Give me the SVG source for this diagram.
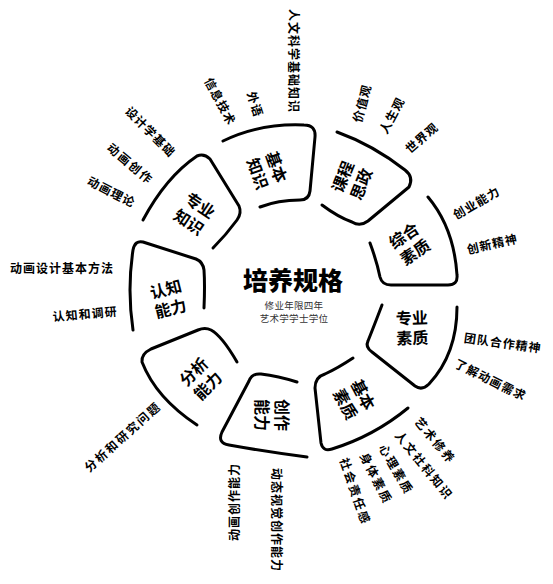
<svg xmlns="http://www.w3.org/2000/svg" width="553" height="584" viewBox="0 0 553 584">
<style>
.seg{fill:none;stroke:#000;stroke-width:3;stroke-linecap:round;stroke-linejoin:round}
text{font-family:"Noto Sans CJK SC","Noto Sans",sans-serif;fill:#000}
.nl{font-size:16px;font-weight:700;text-anchor:middle;dominant-baseline:central}
.lb{font-size:12px;font-weight:700;text-anchor:middle;dominant-baseline:central;letter-spacing:1px}
.lb2{letter-spacing:2px}
.title{font-size:25px;font-weight:900;text-anchor:middle;dominant-baseline:central}
.sub{font-size:9.5px;fill:#333;text-anchor:middle;dominant-baseline:central;letter-spacing:0.3px}
</style>
<rect width="553" height="584" fill="#fff"/>
<g id="center">
<text class="title" x="293" y="279">培养规格</text>
<text class="sub" x="294" y="305">修业年限四年</text>
<text class="sub" x="294" y="318">艺术学学士学位</text>
</g>
<g id="connectors">
<path class="seg" d="M223,141 Q260,123 304,125 Q316,125 315,137 L310,191 Q309,200 300,200 Q278,200 260,207"/>
<path class="seg" d="M337,132 Q373,145 405,170 Q414,177 409,187 L368,221 Q360,227 352,222 Q338,217 322,205"/>
<path class="seg" d="M428,197 Q454,228 457,275 Q458,285 448,285 L391,285 Q382,285 380,277 Q377,262 370,243"/>
<path class="seg" d="M457,307 Q457,354 429,384 Q422,391 415,386 L372,352 Q365,347 368,341 Q374,326 382,305"/>
<path class="seg" d="M408,408 Q374,436 332,449 Q323,452 321,443 L315,388 Q315,377 325,374 Q338,368 353,358"/>
<path class="seg" d="M297,382 Q278,376 261,374 Q252,373 249,381 L222,432 Q217,443 229,445 Q268,452 307,457"/>
<path class="seg" d="M237,362 Q222,336 211,330 Q205,327 198,330 L151,349 Q141,354 142,362 Q156,398 197,425"/>
<path class="seg" d="M204,308 Q205,285 204,270 Q203,262 196,259 L143,242 Q135,240 133,250 Q127,290 133,330"/>
<path class="seg" d="M143,220 Q166,177 197,156 Q204,153 210,159 L239,206 Q242,213 237,220 Q226,235 213,248"/>
</g>
<g id="n-jibenzhishi">
<text class="nl" transform="translate(268,170) rotate(70)"><tspan x="0" y="-10">基本</tspan><tspan x="0" y="10">知识</tspan></text>
<text class="lb" transform="translate(294,61) rotate(90)">人文科学基础知识</text>
<text class="lb" transform="translate(256,104) rotate(72)">外语</text>
<text class="lb" transform="translate(221,101) rotate(62)">信息技术</text>
</g>
<g id="n-kechengsizheng">
<text class="nl" transform="translate(351,180) rotate(-68)"><tspan x="0" y="-10">课程</tspan><tspan x="0" y="10">思政</tspan></text>
<text class="lb" transform="translate(361,103) rotate(-75)">价值观</text>
<text class="lb" transform="translate(391,115) rotate(-62)">人生观</text>
<text class="lb" transform="translate(421,137) rotate(-41)">世界观</text>
</g>
<g id="n-zonghesuzhi">
<text class="nl" transform="translate(409,243) rotate(-34)"><tspan x="0" y="-10">综合</tspan><tspan x="0" y="10">素质</tspan></text>
<text class="lb" transform="translate(476,202) rotate(-30)">创业能力</text>
<text class="lb" transform="translate(492,243) rotate(-13)">创新精神</text>
</g>
<g id="n-zhuanyesuzhi">
<text class="nl" transform="translate(412,327) rotate(-2)"><tspan x="0" y="-10">专业</tspan><tspan x="0" y="10">素质</tspan></text>
<text class="lb" transform="translate(503,342) rotate(8)">团队合作精神</text>
<text class="lb" transform="translate(491,379) rotate(26)">了解动画需求</text>
</g>
<g id="n-jibensuzhi">
<text class="nl" transform="translate(355,399) rotate(62)"><tspan x="0" y="-10">基本</tspan><tspan x="0" y="10">素质</tspan></text>
<text class="lb lb2" transform="translate(436,440) rotate(50)">艺术修养</text>
<text class="lb lb2" transform="translate(425,465) rotate(51)">人文社科知识</text>
<text class="lb lb2" transform="translate(397,469) rotate(60)">心理素质</text>
<text class="lb lb2" transform="translate(377,478) rotate(63)">身体素质</text>
<text class="lb lb2" transform="translate(356,491) rotate(71)">社会责任感</text>
</g>
<g id="n-chuangzuonengli">
<text class="nl" transform="translate(273,415) rotate(90)"><tspan x="0" y="-10">创作</tspan><tspan x="0" y="10">能力</tspan></text>
<text class="lb" transform="translate(277,520) rotate(90)">动态视觉创作能力</text>
<text class="lb" transform="translate(233,502) rotate(-90)">动画创作能力</text>
</g>
<g id="n-fenxinengli">
<text class="nl" transform="translate(200,378) rotate(-45)"><tspan x="0" y="-10">分析</tspan><tspan x="0" y="10">能力</tspan></text>
<text class="lb lb2" transform="translate(122,436) rotate(-42)">分析和研究问题</text>
</g>
<g id="n-renzhinengli">
<text class="nl" transform="translate(168,298) rotate(-14)"><tspan x="0" y="-10">认知</tspan><tspan x="0" y="10">能力</tspan></text>
<text class="lb" transform="translate(62,267)">动画设计基本方法</text>
<text class="lb" transform="translate(85,313) rotate(-5)">认知和调研</text>
</g>
<g id="n-zhuanyezhishi">
<text class="nl" transform="translate(195,213) rotate(34)"><tspan x="0" y="-10">专业</tspan><tspan x="0" y="10">知识</tspan></text>
<text class="lb" transform="translate(151,131) rotate(45)">设计学基础</text>
<text class="lb lb2" transform="translate(131,163) rotate(40)">动画创作</text>
<text class="lb" transform="translate(112,191) rotate(27)">动画理论</text>
</g>
</svg>
